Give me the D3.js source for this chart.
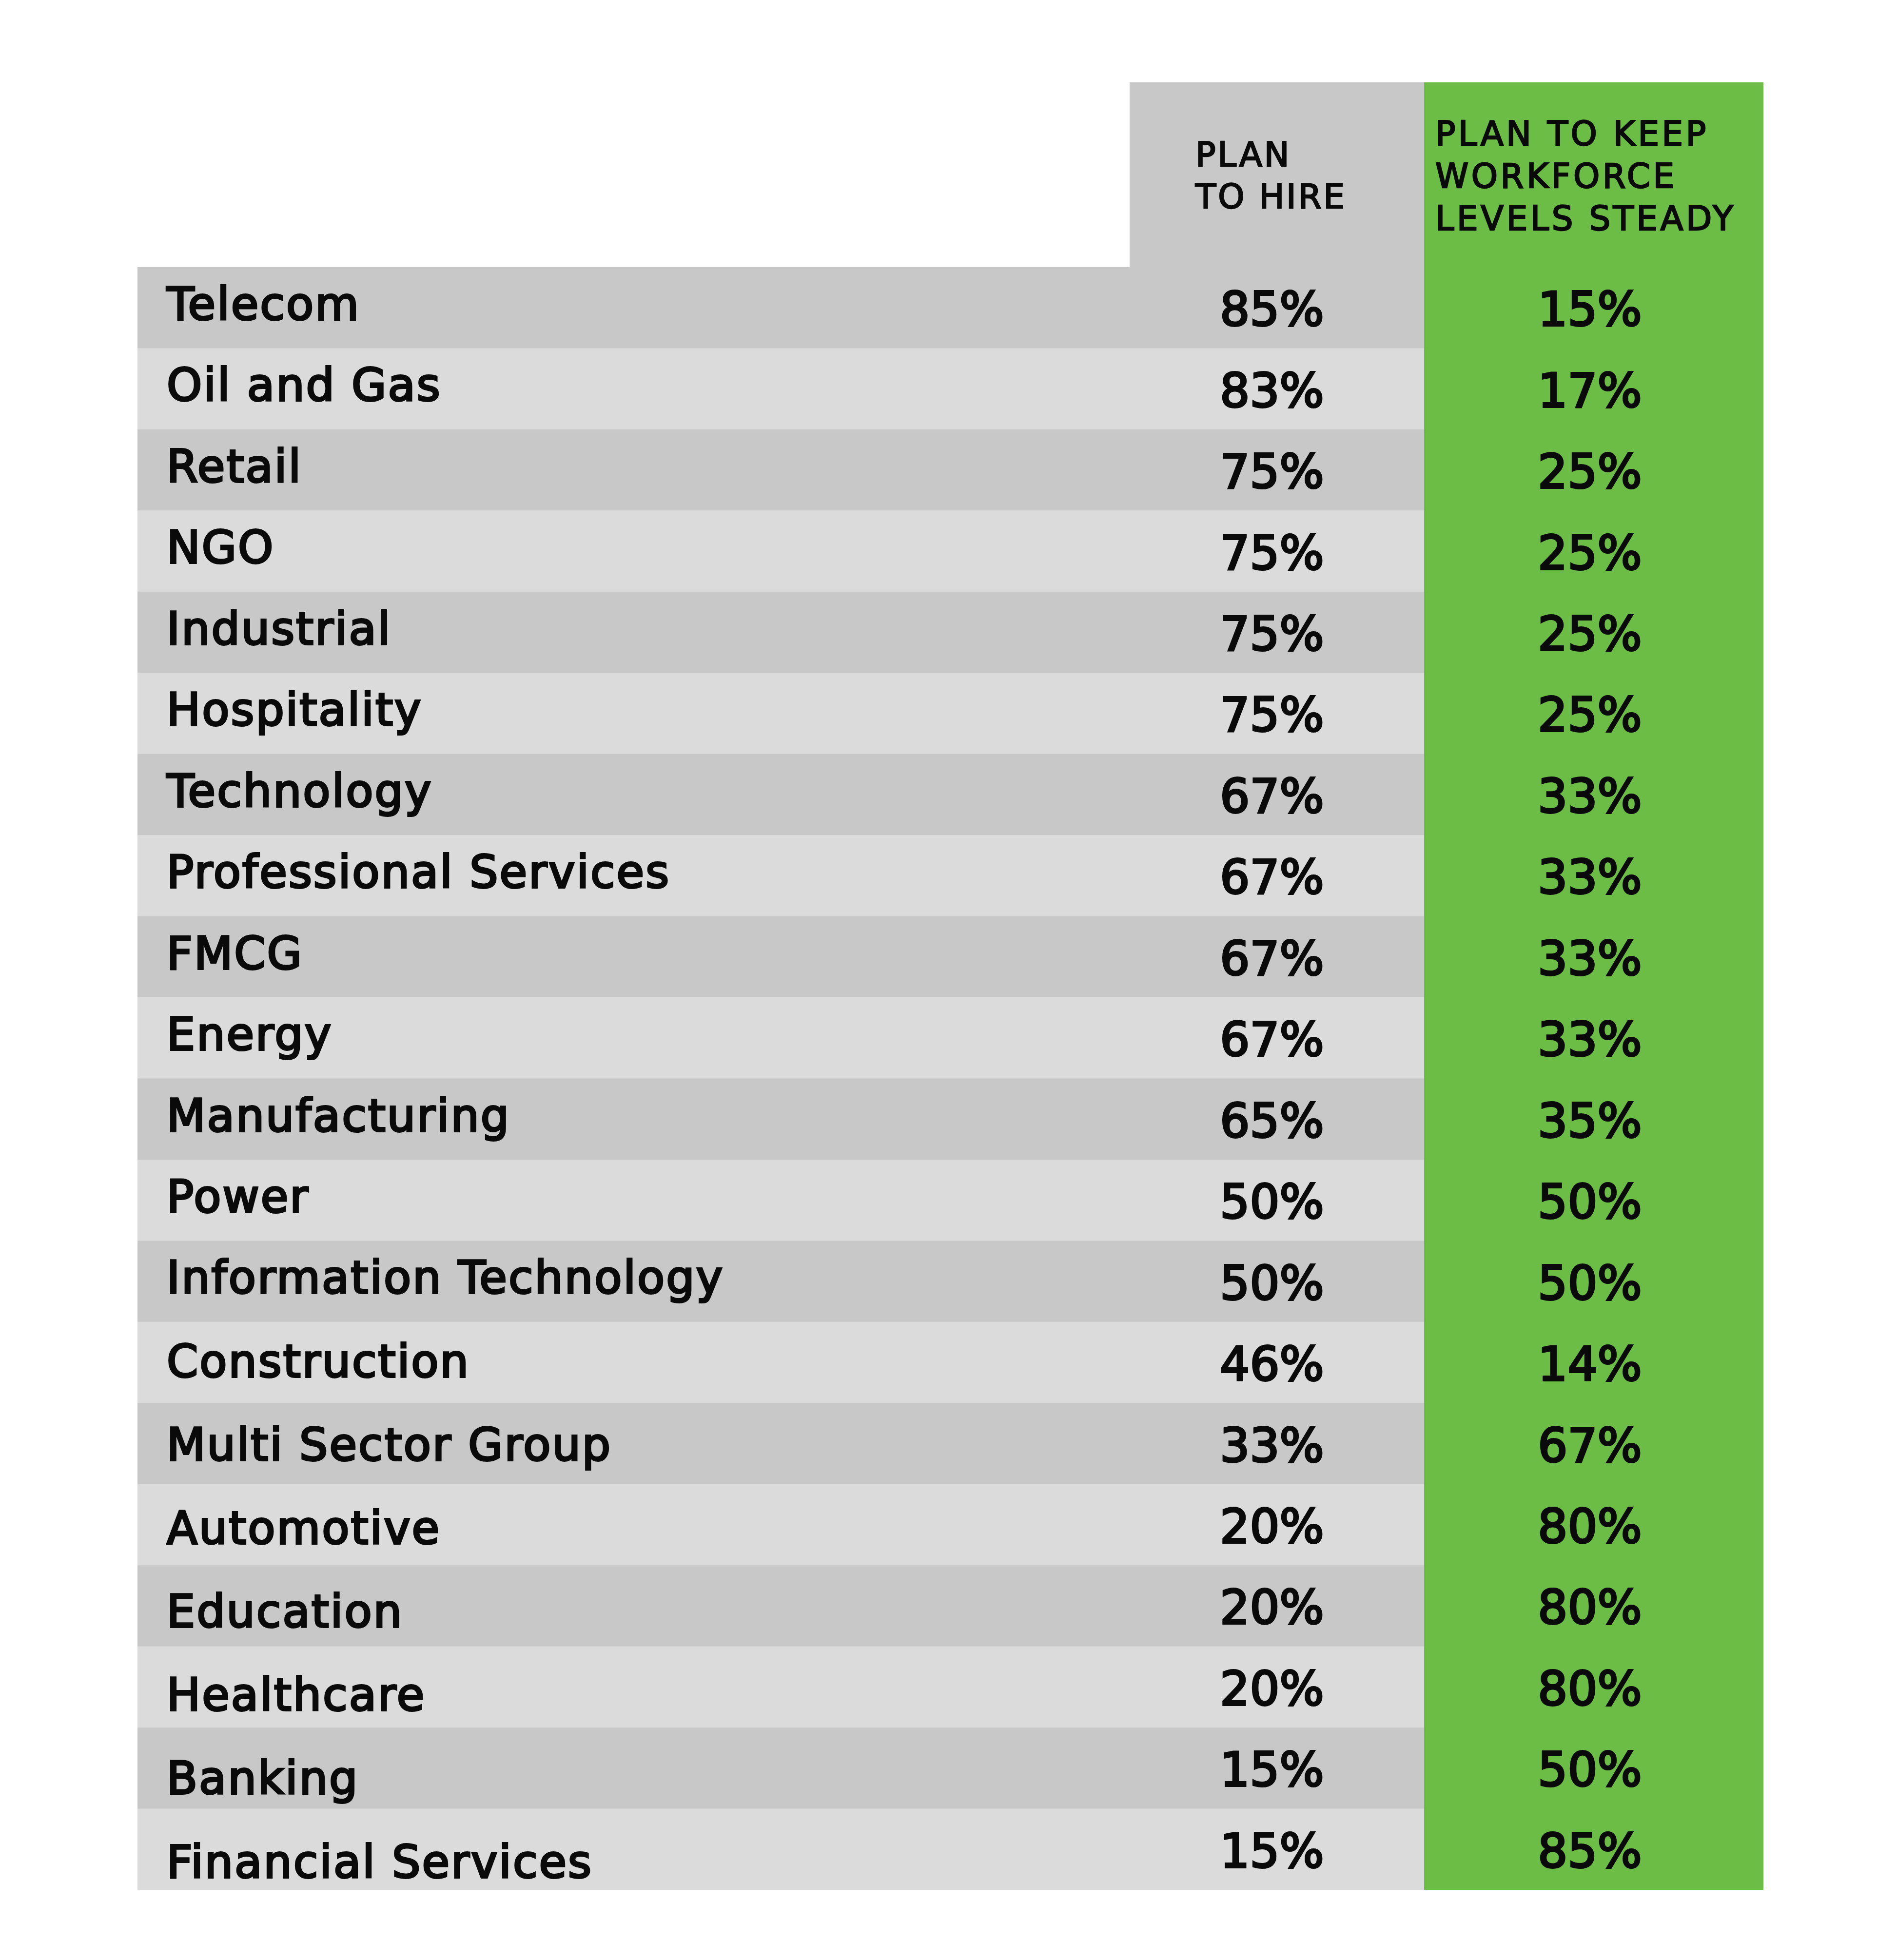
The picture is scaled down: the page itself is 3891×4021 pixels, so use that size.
<!DOCTYPE html>
<html>
<head>
<meta charset="utf-8">
<script src="https://cdn.jsdelivr.net/npm/d3@7"></script>
<style>
  html, body { margin: 0; padding: 0; background: #ffffff; }
  svg { display: block; }
</style>
</head>
<body>
<div id="chart"></div>
<script>
// ---- Data ----
const sectors = [
  "Telecom", "Oil and Gas", "Retail", "NGO", "Industrial", "Hospitality",
  "Technology", "Professional Services", "FMCG", "Energy", "Manufacturing",
  "Power", "Information Technology", "Construction", "Multi Sector Group",
  "Automotive", "Education", "Healthcare", "Banking", "Financial Services"
];
const planToHire = [85, 83, 75, 75, 75, 75, 67, 67, 67, 67, 65, 50, 50, 46, 33, 20, 20, 20, 15, 15];
const planToKeep = [15, 17, 25, 25, 25, 25, 33, 33, 33, 33, 35, 50, 50, 14, 67, 80, 80, 80, 50, 85];
const headerHire = ["PLAN", "TO HIRE"];
const headerKeep = ["PLAN TO KEEP", "WORKFORCE", "LEVELS STEADY"];

// ---- Layout ----
const W = 3891, H = 4021;
const tableLeft = 282, hireLeft = 2317, keepLeft = 2921, tableRight = 3617;
const headerTop = 169, rowsTop = 548, rowsBottom = 3877;

const colorDark = "#c8c8c8", colorLight = "#dbdbdb", colorGreen = "#6cbd45";
const font = "'DejaVu Sans', sans-serif";

const svg = d3.select("#chart").append("svg")
  .attr("width", W).attr("height", H)
  .attr("viewBox", `0 0 ${W} ${H}`);

svg.append("rect").attr("width", W).attr("height", H).attr("fill", "#ffffff");

const y = d3.scaleBand().domain(sectors).range([rowsTop, rowsBottom]).padding(0);
// label baselines drift slightly downward in the lower rows of the original
const labelOffset = d3.scaleLinear().domain([0, 12, 19]).range([108, 108, 141]);

// header gray block over the hire column
svg.append("rect")
  .attr("x", hireLeft).attr("y", headerTop)
  .attr("width", keepLeft - hireLeft).attr("height", rowsTop - headerTop)
  .attr("fill", colorDark);

// row stripes (label + hire columns)
svg.append("g").selectAll("rect")
  .data(sectors)
  .join("rect")
  .attr("x", tableLeft)
  .attr("y", d => y(d))
  .attr("width", keepLeft - tableLeft)
  .attr("height", y.bandwidth() + 0.5)
  .attr("fill", (d, i) => i % 2 === 0 ? colorDark : colorLight);

// green column
svg.append("rect")
  .attr("x", keepLeft).attr("y", headerTop)
  .attr("width", tableRight - keepLeft).attr("height", rowsBottom - headerTop)
  .attr("fill", colorGreen);

// headers
const hdr = svg.append("g")
  .attr("font-family", font).attr("font-size", 69)
  .attr("letter-spacing", 5.5).attr("fill", "#0a0a0a")
  .attr("stroke", "#0a0a0a").attr("stroke-width", 2.5);

hdr.selectAll("text.hire")
  .data(headerHire).join("text").attr("class", "hire")
  .attr("x", 2452)
  .attr("y", (d, i) => 341 + i * 86)
  .attr("letter-spacing", 4)
  .text(d => d);

hdr.selectAll("text.keep")
  .data(headerKeep).join("text").attr("class", "keep")
  .attr("x", 2944)
  .attr("y", (d, i) => 298 + i * 87)
  .text(d => d);

// sector labels
svg.append("g")
  .attr("font-family", font).attr("font-size", 92)
  .attr("letter-spacing", 3)
  .attr("fill", "#0a0a0a").attr("stroke", "#0a0a0a").attr("stroke-width", 4)
  .selectAll("text")
  .data(sectors)
  .join("text")
  .attr("x", 342)
  .attr("y", (d, i) => y(d) + labelOffset(i))
  .text(d => d);

// values
const vals = svg.append("g")
  .attr("font-family", font).attr("font-size", 96)
  .attr("text-anchor", "middle")
  .attr("fill", "#0a0a0a").attr("stroke", "#0a0a0a").attr("stroke-width", 4);

vals.selectAll("text.hire")
  .data(planToHire).join("text").attr("class", "hire")
  .attr("x", (hireLeft + keepLeft) / 2 - 10)
  .attr("y", (d, i) => y(sectors[i]) + y.bandwidth() / 2 + 37)
  .text(d => d + "%");

vals.selectAll("text.keep")
  .data(planToKeep).join("text").attr("class", "keep")
  .attr("x", (keepLeft + tableRight) / 2 - 8)
  .attr("y", (d, i) => y(sectors[i]) + y.bandwidth() / 2 + 37)
  .text(d => d + "%");
</script>
</body>
</html>
